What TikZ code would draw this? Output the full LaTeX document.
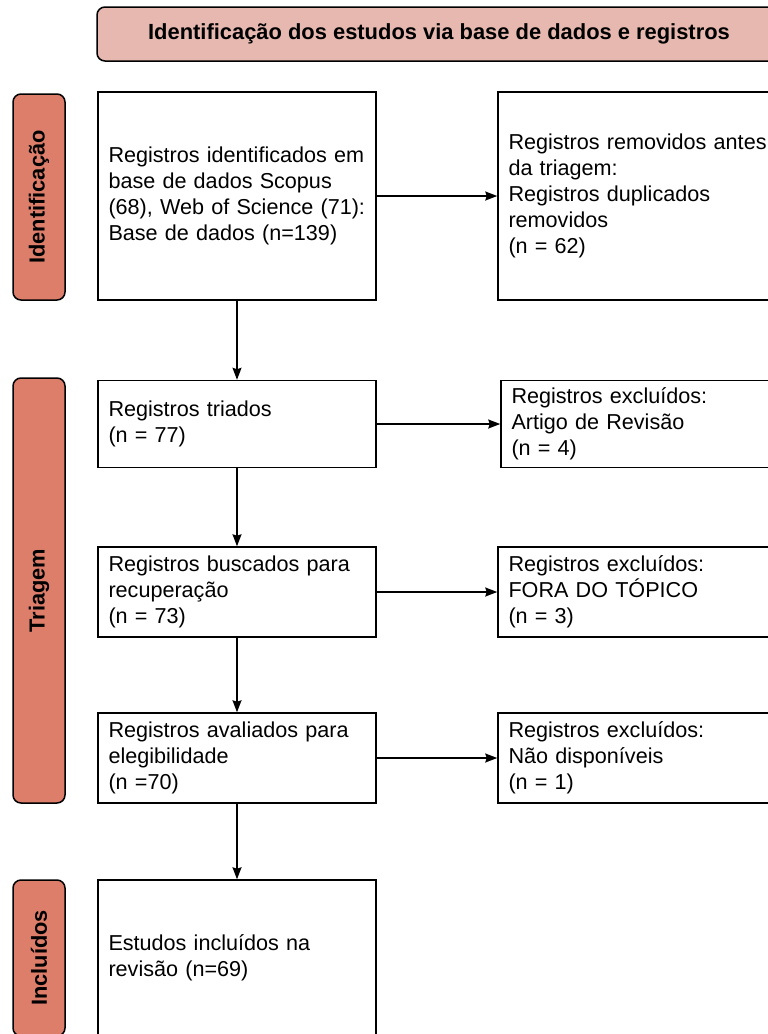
\documentclass[tikz,border=0pt]{standalone}
\usepackage{fontspec}
\setmainfont{Liberation Sans}
\usepackage{tikz}
\usetikzlibrary{arrows.meta}
\definecolor{berryclaro}{HTML}{E6B8AF}
\definecolor{berry}{HTML}{DD7E6B}
\tikzset{
  caixa/.style={draw=black, line width=1.5pt, fill=white, minimum height=#1,
    text width=257pt, inner xsep=10.5pt, inner ysep=0pt, align=left,
    font=\fontsize{21.6}{26}\selectfont},
  caixadir/.style={caixa=#1, text width=269pt},
  fase/.style={draw=black, line width=1.5pt, fill=berry, rounded corners=8pt,
    minimum width=#1, minimum height=52pt, rotate=90,
    font=\bfseries\fontsize{21.8}{26}\selectfont},
  seta/.style={black, line width=1.5pt, -{Stealth[length=12pt, width=9pt, inset=1.5pt]}}
}
\begin{document}
\begin{tikzpicture}[x=1pt, y=-1pt]
\useasboundingbox (0,0) rectangle (768,1034);
\clip (0,0) rectangle (768,1034);

\node[draw=black, line width=1.5pt, fill=berryclaro, rounded corners=8pt,
  minimum width=684pt, minimum height=54pt,
  font=\bfseries\fontsize{21.9}{26}\selectfont] (titulo) at (439,34)
  {Identificação dos estudos via base de dados e registros};

\node[fase=206pt] (fident) at (39,197) {Identificação};
\node[fase=425pt] (ftriagem) at (39,590.5) {Triagem};
\node[fase=156pt] (fincl) at (39,958) {Incluídos};

\node[caixa=208pt] (ident) at (237,196) {Registros identificados em\\base de dados Scopus\\(68), Web of Science (71):\\Base de dados (n=139)};
\node[caixa=87pt] (triados) at (237,424) {Registros triados\\(n = 77)};
\node[caixa=90pt] (buscados) at (237,592) {Registros buscados para\\recuperação\\(n = 73)};
\node[caixa=90pt] (avaliados) at (237,758) {Registros avaliados para\\elegibilidade\\(n =70)};
\node[caixa=156pt] (incluidos) at (237,958) {Estudos incluídos na\\revisão (n=69)};

\node[caixadir=208pt] (removidos) at (643,196) {Registros removidos antes\\da triagem:\\Registros duplicados\\removidos\\(n = 62)};
\node[caixadir=87pt] (excl1) at (646,424) {Registros excluídos:\\Artigo de Revisão\\(n = 4)};
\node[caixadir=90pt] (excl2) at (643,592) {Registros excluídos:\\FORA DO TÓPICO\\(n = 3)};
\node[caixadir=90pt] (excl3) at (643,758) {Registros excluídos:\\Não disponíveis\\(n = 1)};

\foreach \a/\b in {ident/triados, triados/buscados, buscados/avaliados, avaliados/incluidos}
  \draw[seta] (\a) -- (\b);
\foreach \a/\b in {ident/removidos, triados/excl1, buscados/excl2, avaliados/excl3}
  \draw[seta] (\a) -- (\b);
\end{tikzpicture}
\end{document}
